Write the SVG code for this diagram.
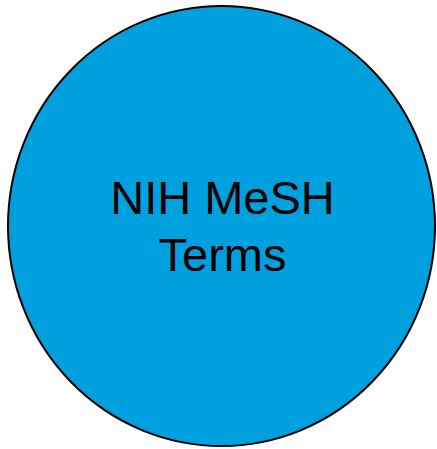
<svg xmlns="http://www.w3.org/2000/svg" width="437" height="449" viewBox="0 0 437 449">
<style>
.lbl{font-family:"Liberation Sans",Arial,sans-serif;font-size:47px;fill:#000;text-anchor:middle}
</style>
<rect width="437" height="449" fill="#fff"/>
<g id="node-mesh">
<ellipse cx="221.5" cy="226" rx="213.5" ry="220" fill="#00A0DF" stroke="#000" stroke-width="2"/>
<text class="lbl" x="222.5" y="213.5">NIH MeSH</text>
<text class="lbl" x="222.5" y="270.5">Terms</text>
</g>
<g id="connectors"></g>
</svg>
